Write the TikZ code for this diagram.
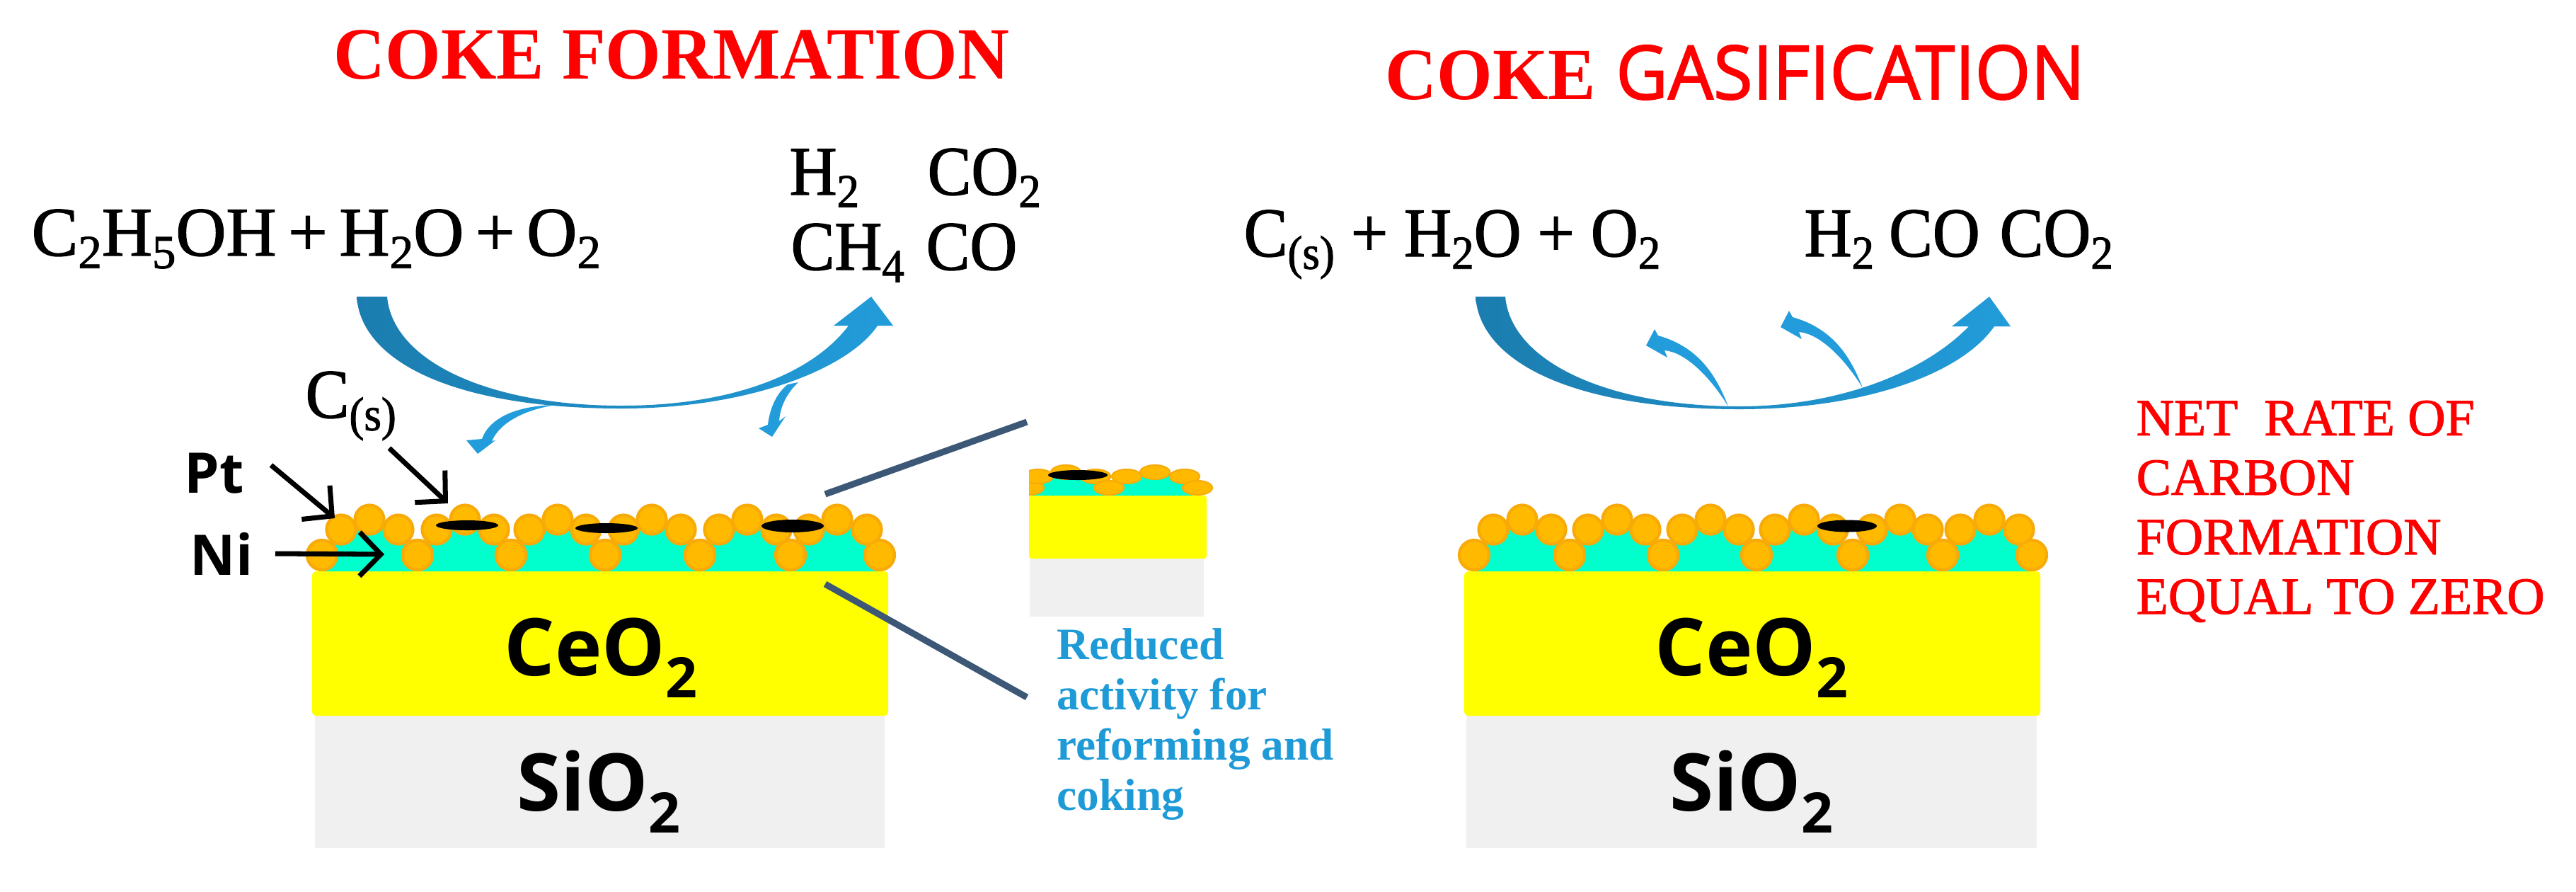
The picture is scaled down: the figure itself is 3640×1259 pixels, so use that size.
\documentclass[tikz,border=0pt]{standalone}
\usepackage{fontspec}
\setmainfont{Liberation Serif}
\setsansfont{Open Sans}
\newfontfamily\eqfont{Liberation Serif}[FakeStretch=0.94,FakeBold=1.4]
\newfontfamily\netfont{Liberation Serif}[FakeBold=1.4]
\newfontfamily\titlefont{Liberation Serif}[FakeStretch=0.97]
\newfontfamily\gasfont{Open Sans}[FakeStretch=0.96,FakeBold=1.6]
\usetikzlibrary{arrows.meta,positioning}
\definecolor{ceria}{RGB}{255,255,0}
\definecolor{silica}{RGB}{240,240,240}
\definecolor{nickel}{RGB}{0,255,204}
\definecolor{platinum}{RGB}{255,186,0}
\definecolor{platrim}{RGB}{248,170,8}
\definecolor{flowdark}{RGB}{27,125,175}
\definecolor{flowlight}{RGB}{34,156,218}
\definecolor{leader}{RGB}{60,88,118}
\definecolor{notecol}{RGB}{30,154,214}

\newcommand{\subs}[1]{\raisebox{-0.18em}{\scalebox{0.68}{#1}}}
\newcommand{\lowsub}[1]{\raisebox{-0.28em}{\scalebox{0.7}{#1}}}

\begin{document}
\begin{tikzpicture}[x=0.01cm, y=-0.01cm,
        title/.style={anchor=base west, inner sep=0, text=red, font=\fontsize{29.6}{36}\titlefont\bfseries},
        eqn/.style={anchor=base west, inner sep=0, font=\fontsize{28}{34}\eqfont},
        layer/.style={anchor=base, inner sep=0, font=\fontsize{32}{38}\selectfont\sffamily\bfseries},
        tag/.style={anchor=base west, inner sep=0, font=\fontsize{22.5}{27}\selectfont\sffamily\bfseries},
        particle/.style={fill=platinum, draw=platrim, line width=1.2pt},
        coke/.style={fill=black},
        pointer/.style={-{Straight Barb[length=0.3cm, width=0.62cm]}, line width=2pt},
        callout/.style={leader, line width=2.6pt},
        flow/.style={left color=flowdark, right color=flowlight, draw=none},
        branch/.style={fill=flowlight, draw=none}
    ]
    \useasboundingbox (0,0) rectangle (3640,1259);

    % titles
    \node[title] (formation) at (471,111) {COKE FORMATION};
    \node[title] (gasification) at (1957,140) {COKE\kern 8pt{\fontsize{30}{36}\gasfont\mdseries GASIFICATION}};

    % equations
    \node[eqn, font=\fontsize{28}{34}\netfont] (feedleft) at (44,361) {\spaceskip=0.17em\relax C\subs{2}H\subs{5}OH + H\subs{2}O + O\subs{2}};
    \node[eqn] (prodtop) at (1115,275) {H\subs{2}};
    \node[eqn] (prodtopb) at (1310,275) {CO\subs{2}};
    \node[eqn] (prodbot) at (1117,381) {CH\subs{4}};
    \node[eqn] (prodbotb) at (1308,381) {CO};
    \node[eqn] (feedright) at (1757,362) {C\subs{(s)} + H\subs{2}O + O\subs{2}};
    \node[eqn] (prodright) at (2549,362) {H\subs{2}\kern 6pt CO\kern 8pt CO\subs{2}};

    % supports
    \fill[silica] (445,1011) rectangle (1250,1198);
    \fill[silica] (2072,1011) rectangle (2878,1198);
    \fill[silica] (1455,789) rectangle (1701,871);
    \fill[ceria, rounded corners=1.5pt] (441,807) rectangle (1255,1011);
    \fill[ceria, rounded corners=1.5pt] (2069,807) rectangle (2883,1011);
    \fill[ceria, rounded corners=1pt] (1454,700) rectangle (1705,789);

    % nickel and platinum
    \def\cells{455/482/522/563/590, 590/617/657/698/722, 722/748/788/828/855,
        855/881/921/962/989, 989/1016/1056/1097/1117, 1117/1143/1183/1225/1243,
        2083/2110/2151/2192/2218, 2218/2244/2285/2325/2350, 2350/2377/2417/2457/2482,
        2482/2508/2549/2590/2618, 2618/2645/2685/2724/2745, 2745/2770/2811/2853/2871}
    \foreach \a/\b/\c/\d/\e in \cells
        \fill[nickel] (\a,807) -- (\a,784) -- (\b,748) -- (\c,734) -- (\d,748) -- (\e,784) -- (\e,807) -- cycle;
    \foreach \a/\b/\c/\d/\e in \cells {
        \draw[particle] (\a,784) circle (21);
        \draw[particle] (\e,784) circle (21);
        \draw[particle] (\b,748) circle (20.5);
        \draw[particle] (\d,748) circle (20.5);
        \draw[particle] (\c,734) circle (20.5);
    }
    \foreach \x/\y/\rx/\ry in {660/742/44/7, 857/746/44/7, 1120/743/44/9, 2610/743/42/8.5}
        \fill[coke] (\x,\y) ellipse ({\rx} and {\ry});

    % inset
    \begin{scope}
        \clip (1454,640) rectangle (1720,700);
        \fill[nickel] (1454,700) -- (1454,676) -- (1467,673) -- (1506,667) -- (1548,673) -- (1567,689) -- (1592,673)
            -- (1632,667) -- (1674,673) -- (1692,689) -- (1685,700) -- cycle;
        \foreach \x/\y in {1454/689, 1467/673, 1506/667, 1548/673, 1567/689, 1592/673, 1632/667, 1674/673, 1692/689}
            \draw[particle, line width=0.6pt] (\x,\y) ellipse (21 and 10);
        \fill[coke] (1523,671) ellipse (42 and 7);
    \end{scope}

    % layer names
    \node[layer] (ceo) at (849,954) {CeO\lowsub{2}};
    \node[layer] (sio) at (846,1145) {SiO\lowsub{2}};
    \node[layer] (ceob) at (2475,954) {CeO\lowsub{2}};
    \node[layer] (siob) at (2475,1145) {SiO\lowsub{2}};

    % labels and their pointers
    \node[tag] (pt) at (260,696) {Pt};
    \node[tag] (ni) at (268,812) {Ni};
    \node[eqn] (carbon) at (431,590) {C\subs{(s)}};
    \coordinate (pttip) at (473,732);
    \coordinate (nitip) at (543,783);
    \coordinate (ctip) at (633,711);
    \coordinate (ptstart) at (383,657);
    \coordinate (nistart) at (389,782);
    \coordinate (cstart) at (550,633);
    \draw[pointer] (ptstart) -- (pttip);
    \draw[pointer] (nistart) -- (nitip);
    \draw[pointer] (cstart) -- (ctip);

    % callout lines
    \coordinate (uplow) at (1166,698);
    \coordinate (uphigh) at (1451,596);
    \coordinate (downhigh) at (1166,825);
    \coordinate (downlow) at (1451,985);
    \draw[callout] (uplow) -- (uphigh);
    \draw[callout] (downhigh) -- (downlow);

    \node[anchor=base west, inner sep=0, align=left, text=notecol, font=\fontsize{18}{20.1}\selectfont\bfseries] (note)
        at (1493,1144) {Reduced\\activity for\\reforming and\\coking};

    \node[anchor=base west, inner sep=0, align=left, text=red, font=\fontsize{21}{23.9}\netfont] (netrate)
        at (3018,867) {NET\ \ RATE OF\\CARBON\\FORMATION\\EQUAL TO ZERO};

    % big curved arrows
    \path[flow] (504,419) .. controls (510,510) and (640,577) .. (878,577)
        .. controls (1060,577) and (1200,520) .. (1240,460) -- (1262,460) -- (1231,419) -- (1178,460) -- (1199,460)
        .. controls (1150,525) and (1040,573) .. (878,573)
        .. controls (690,573) and (555,510) .. (547,419) -- cycle;
    \path[flow] (2085,419) .. controls (2091,510) and (2220,578) .. (2458,578)
        .. controls (2630,578) and (2770,530) .. (2818,461) -- (2841,461) -- (2811,419) -- (2758,461) -- (2782,461)
        .. controls (2720,525) and (2600,574) .. (2458,574)
        .. controls (2270,574) and (2135,510) .. (2127,419) -- cycle;

    % side branches
    \fill[branch] (785,572) .. controls (730,573) and (692,590) .. (681,620) -- (659,622) -- (675,641) -- (700,622) -- (695,623)
        .. controls (705,600) and (735,580) .. (785,572) -- cycle;
    \fill[branch] (1128,540) .. controls (1112,555) and (1102,575) .. (1101,595) -- (1110,588) -- (1091,617) -- (1072,605) -- (1085,600)
        .. controls (1088,575) and (1098,555) .. (1113,543) -- cycle;
    \foreach \dx/\dy in {0/0, 190/-26}
        \fill[branch, shift={(\dx,\dy)}] (2442,574) .. controls (2425,530) and (2400,490) .. (2343,474) -- (2338,465) -- (2326,488) -- (2356,505) -- (2352,495)
            .. controls (2380,497) and (2415,530) .. (2442,574) -- cycle;
\end{tikzpicture}
\end{document}
